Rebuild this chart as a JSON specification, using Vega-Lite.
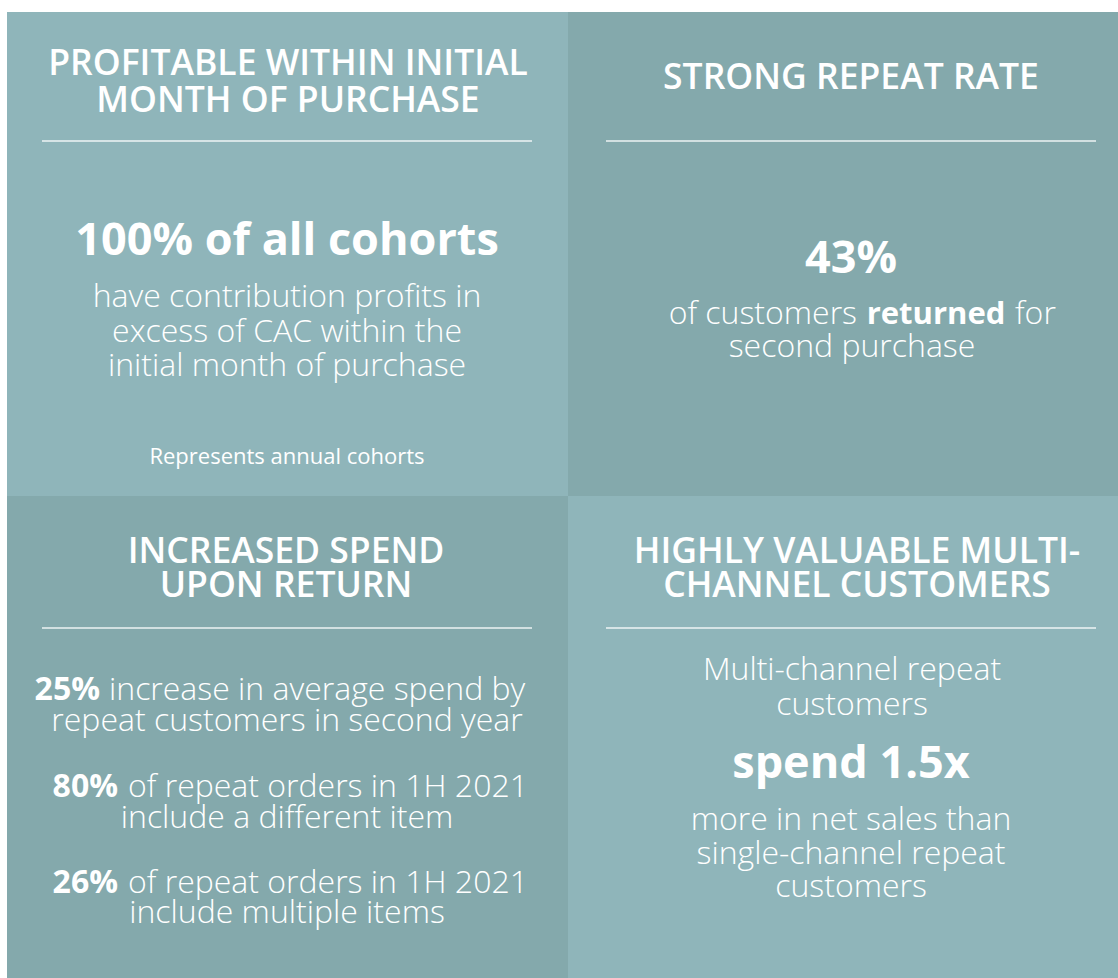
{
  "$schema": "https://vega.github.io/schema/vega-lite/v6.json",
  "width": 1118,
  "height": 978,
  "autosize": {"type": "fit", "contains": "padding"},
  "padding": 0,
  "background": "#ffffff",
  "config": {"view": {"stroke": null}},
  "datasets": {
    "panels": [
      {"panel": "Profitable within initial month", "shade": "light", "x": 7, "x2": 568, "y": 12, "y2": 496},
      {"panel": "Strong repeat rate", "shade": "dark", "x": 568, "x2": 1118, "y": 12, "y2": 496},
      {"panel": "Increased spend upon return", "shade": "dark", "x": 7, "x2": 568, "y": 496, "y2": 978},
      {"panel": "Highly valuable multi-channel customers", "shade": "light", "x": 568, "x2": 1118, "y": 496, "y2": 978}
    ],
    "rules": [
      {"panel": "Profitable within initial month", "x": 42, "x2": 532, "y": 141},
      {"panel": "Strong repeat rate", "x": 606, "x2": 1096, "y": 141},
      {"panel": "Increased spend upon return", "x": 42, "x2": 532, "y": 628},
      {"panel": "Highly valuable multi-channel customers", "x": 606, "x2": 1096, "y": 628}
    ],
    "texts": [
      {"kind": "title", "anchor": "center", "x": 288, "y": 75, "text": "PROFITABLE WITHIN INITIAL"},
      {"kind": "title", "anchor": "center", "x": 288, "y": 112, "text": "MONTH OF PURCHASE"},
      {"kind": "big", "anchor": "center", "x": 287, "y": 255, "text": "100% of all cohorts"},
      {"kind": "body", "anchor": "center", "x": 287, "y": 307, "text": "have contribution profits in"},
      {"kind": "body", "anchor": "center", "x": 287, "y": 342, "text": "excess of CAC within the"},
      {"kind": "body", "anchor": "center", "x": 287, "y": 376, "text": "initial month of purchase"},
      {"kind": "note", "anchor": "center", "x": 287, "y": 464, "text": "Represents annual cohorts"},

      {"kind": "title", "anchor": "center", "x": 851, "y": 89, "text": "STRONG REPEAT RATE"},
      {"kind": "big", "anchor": "center", "x": 851, "y": 273, "text": "43%"},
      {"kind": "body", "anchor": "end", "x": 857, "y": 324, "text": "of customers"},
      {"kind": "bold", "anchor": "center", "x": 936, "y": 324, "text": "returned"},
      {"kind": "body", "anchor": "start", "x": 1015, "y": 324, "text": "for"},
      {"kind": "body", "anchor": "center", "x": 852, "y": 357, "text": "second purchase"},

      {"kind": "title", "anchor": "center", "x": 286, "y": 563, "text": "INCREASED SPEND"},
      {"kind": "title", "anchor": "center", "x": 286, "y": 597, "text": "UPON RETURN"},
      {"kind": "bold", "anchor": "end", "x": 100, "y": 700, "text": "25%"},
      {"kind": "body", "anchor": "start", "x": 109, "y": 700, "text": "increase in average spend by"},
      {"kind": "body", "anchor": "center", "x": 287, "y": 731, "text": "repeat customers in second year"},
      {"kind": "bold", "anchor": "end", "x": 118, "y": 797, "text": "80%"},
      {"kind": "body", "anchor": "start", "x": 128, "y": 797, "text": "of repeat orders in 1H 2021"},
      {"kind": "body", "anchor": "center", "x": 287, "y": 828, "text": "include a different item"},
      {"kind": "bold", "anchor": "end", "x": 118, "y": 893, "text": "26%"},
      {"kind": "body", "anchor": "start", "x": 128, "y": 893, "text": "of repeat orders in 1H 2021"},
      {"kind": "body", "anchor": "center", "x": 287, "y": 923, "text": "include multiple items"},

      {"kind": "title", "anchor": "center", "x": 857, "y": 563, "text": "HIGHLY VALUABLE MULTI-"},
      {"kind": "title", "anchor": "center", "x": 857, "y": 597, "text": "CHANNEL CUSTOMERS"},
      {"kind": "body", "anchor": "center", "x": 852, "y": 680, "text": "Multi-channel repeat"},
      {"kind": "body", "anchor": "center", "x": 852, "y": 715, "text": "customers"},
      {"kind": "big", "anchor": "center", "x": 851, "y": 778, "text": "spend 1.5x"},
      {"kind": "body", "anchor": "center", "x": 851, "y": 830, "text": "more in net sales than"},
      {"kind": "body", "anchor": "center", "x": 851, "y": 864, "text": "single-channel repeat"},
      {"kind": "body", "anchor": "center", "x": 851, "y": 897, "text": "customers"}
    ]
  },
  "encoding": {
    "x": {"field": "x", "type": "quantitative", "scale": {"domain": [0, 1118], "nice": false, "zero": false}, "axis": null},
    "y": {"field": "y", "type": "quantitative", "scale": {"domain": [0, 978], "nice": false, "zero": false, "reverse": true}, "axis": null}
  },
  "layer": [
    {
      "data": {"name": "panels"},
      "mark": {"type": "rect", "strokeWidth": 0},
      "encoding": {
        "x2": {"field": "x2"},
        "y2": {"field": "y2"},
        "color": {"field": "shade", "type": "nominal", "scale": {"domain": ["light", "dark"], "range": ["#8fb5ba", "#84a9ac"]}, "legend": null}
      }
    },
    {
      "data": {"name": "rules"},
      "mark": {"type": "rule", "color": "#ffffff", "strokeWidth": 1.5, "opacity": 0.85},
      "encoding": {"x2": {"field": "x2"}}
    },
    {
      "data": {"name": "texts"},
      "transform": [{"filter": "datum.kind === 'title'"}],
      "mark": {"type": "text", "align": "center", "baseline": "alphabetic", "font": "Open Sans", "fontSize": 35.5, "fontWeight": 600, "color": "#ffffff"},
      "encoding": {"text": {"field": "text"}}
    },
    {
      "data": {"name": "texts"},
      "transform": [{"filter": "datum.kind === 'big'"}],
      "mark": {"type": "text", "align": "center", "baseline": "alphabetic", "font": "Open Sans", "fontSize": 45, "fontWeight": 700, "color": "#ffffff"},
      "encoding": {"text": {"field": "text"}}
    },
    {
      "data": {"name": "texts"},
      "transform": [{"filter": "datum.kind === 'body' && datum.anchor === 'center'"}],
      "mark": {"type": "text", "align": "center", "baseline": "alphabetic", "font": "Open Sans", "fontSize": 32, "fontWeight": 300, "color": "#ffffff"},
      "encoding": {"text": {"field": "text"}}
    },
    {
      "data": {"name": "texts"},
      "transform": [{"filter": "datum.kind === 'body' && datum.anchor === 'start'"}],
      "mark": {"type": "text", "align": "left", "baseline": "alphabetic", "font": "Open Sans", "fontSize": 32, "fontWeight": 300, "color": "#ffffff"},
      "encoding": {"text": {"field": "text"}}
    },
    {
      "data": {"name": "texts"},
      "transform": [{"filter": "datum.kind === 'body' && datum.anchor === 'end'"}],
      "mark": {"type": "text", "align": "right", "baseline": "alphabetic", "font": "Open Sans", "fontSize": 32, "fontWeight": 300, "color": "#ffffff"},
      "encoding": {"text": {"field": "text"}}
    },
    {
      "data": {"name": "texts"},
      "transform": [{"filter": "datum.kind === 'bold' && datum.anchor === 'end'"}],
      "mark": {"type": "text", "align": "right", "baseline": "alphabetic", "font": "Open Sans", "fontSize": 32, "fontWeight": 700, "color": "#ffffff"},
      "encoding": {"text": {"field": "text"}}
    },
    {
      "data": {"name": "texts"},
      "transform": [{"filter": "datum.kind === 'bold' && datum.anchor === 'center'"}],
      "mark": {"type": "text", "align": "center", "baseline": "alphabetic", "font": "Open Sans", "fontSize": 31, "fontWeight": 700, "color": "#ffffff"},
      "encoding": {"text": {"field": "text"}}
    },
    {
      "data": {"name": "texts"},
      "transform": [{"filter": "datum.kind === 'note'"}],
      "mark": {"type": "text", "align": "center", "baseline": "alphabetic", "font": "Open Sans", "fontSize": 22, "fontWeight": 400, "color": "#ffffff"},
      "encoding": {"text": {"field": "text"}}
    }
  ]
}
